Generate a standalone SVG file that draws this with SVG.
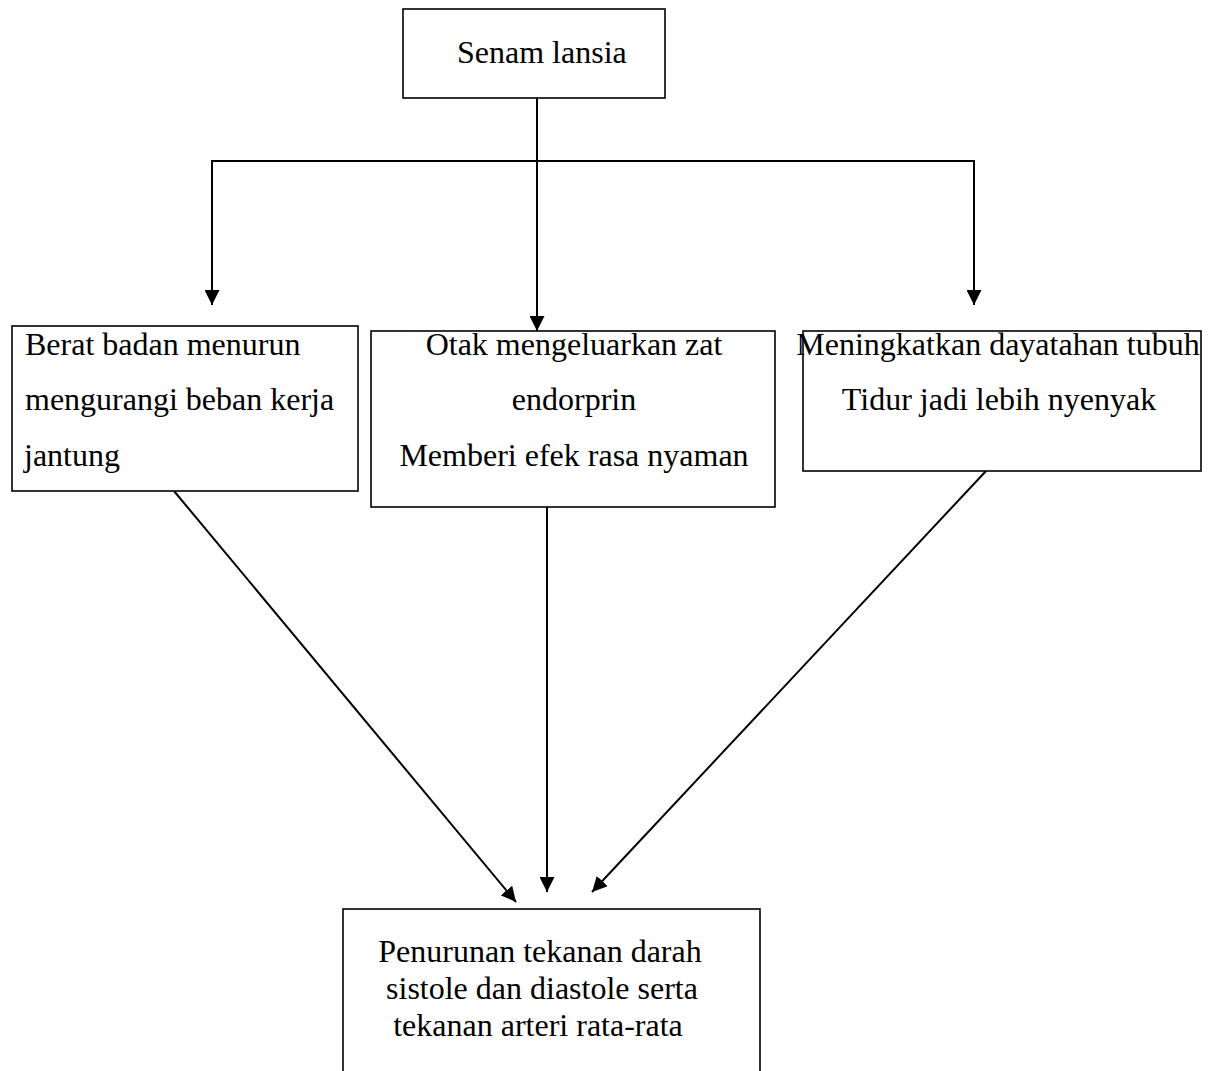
<svg xmlns="http://www.w3.org/2000/svg" width="1219" height="1071" viewBox="0 0 1219 1071">
<style>
.box{fill:#fff;stroke:#000;stroke-width:1.6}
.t{font-family:"Liberation Serif","Times New Roman",serif;font-size:32px;fill:#000}
.c{text-anchor:middle}
.ln{fill:none;stroke:#000;stroke-width:2}
</style>
<defs>
<marker id="ah" markerWidth="8" markerHeight="8" refX="7.5" refY="4" orient="auto" markerUnits="userSpaceOnUse" viewBox="0 0 8 8">
<path d="M0,0 L8,4 L0,8 Z" fill="#000"/>
</marker>
<marker id="a" markerWidth="15" markerHeight="15" refX="15" refY="7.5" orient="auto" markerUnits="userSpaceOnUse" viewBox="0 0 15 15">
<path d="M0,0 L15,7.5 L0,15 Z" fill="#000"/>
</marker>
</defs>
<g id="connectors">
<line class="ln" x1="537" y1="98" x2="537" y2="331" marker-end="url(#a)"/>
<polyline class="ln" points="212,305 212,161 974,161 974,305" fill="none"/>
<line class="ln" x1="212" y1="250" x2="212" y2="305" marker-end="url(#a)"/>
<line class="ln" x1="974" y1="250" x2="974" y2="305" marker-end="url(#a)"/>
<line class="ln" x1="174" y1="491" x2="516" y2="902" marker-end="url(#a)"/>
<line class="ln" x1="547" y1="507" x2="547" y2="892" marker-end="url(#a)"/>
<line class="ln" x1="986" y1="471" x2="592" y2="892" marker-end="url(#a)"/>
</g>
<g id="n-senam">
<rect class="box" x="403" y="9" width="262" height="89"/>
<text class="t" x="457" y="63">Senam lansia</text>
</g>
<g id="n-berat">
<rect class="box" x="12" y="326" width="346" height="165"/>
<text class="t" x="25" y="355">Berat badan menurun</text>
<text class="t" x="25" y="410">mengurangi beban kerja</text>
<text class="t" x="24" y="466">jantung</text>
</g>
<g id="n-otak">
<rect class="box" x="371" y="331" width="404" height="176"/>
<text class="t c" x="574" y="355">Otak mengeluarkan zat</text>
<text class="t c" x="574" y="410">endorprin</text>
<text class="t c" x="574" y="466">Memberi efek rasa nyaman</text>
</g>
<g id="n-meningkatkan">
<rect class="box" x="803" y="331" width="398" height="140"/>
<text class="t c" x="998" y="355">Meningkatkan dayatahan tubuh</text>
<text class="t c" x="999" y="410">Tidur jadi lebih nyenyak</text>
</g>
<g id="n-penurunan">
<rect class="box" x="343" y="909" width="417" height="170"/>
<text class="t c" x="540" y="962">Penurunan tekanan darah</text>
<text class="t c" x="542" y="999">sistole dan diastole serta</text>
<text class="t c" x="538" y="1036">tekanan arteri rata-rata</text>
</g>
</svg>
